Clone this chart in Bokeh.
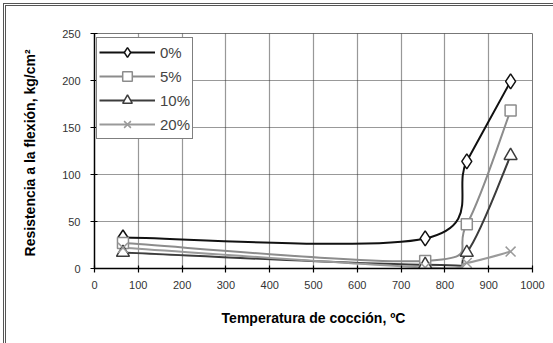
from bokeh.plotting import figure
from bokeh.models import Range1d, Legend, LegendItem, FixedTicker, InlineStyleSheet
from bokeh.embed import file_html
from bokeh.resources import INLINE

# ---- data ----
temps = [65, 755, 850, 950]
s0 = [33, 32, 114, 199]
s5 = [27, 8, 47, 168]
s10 = [17, 4, 17, 120]
s20 = [22, 1, 6, 18]
series_labels = ["0%", "5%", "10%", "20%"]
x_ticks = [0, 100, 200, 300, 400, 500, 600, 700, 800, 900, 1000]
y_ticks = [0, 50, 100, 150, 200, 250]

FONT = "Liberation Sans"


def smooth_segments(xs, ys):
    """Excel-style smoothed line: Catmull-Rom cubic Bezier segments through the points."""
    n = len(xs)
    seg = dict(x0=[], y0=[], x1=[], y1=[], cx0=[], cy0=[], cx1=[], cy1=[])
    for i in range(n - 1):
        pm = max(i - 1, 0)
        pp = min(i + 2, n - 1)
        seg["x0"].append(xs[i]); seg["y0"].append(ys[i])
        seg["x1"].append(xs[i + 1]); seg["y1"].append(ys[i + 1])
        seg["cx0"].append(xs[i] + (xs[i + 1] - xs[pm]) / 6)
        seg["cy0"].append(ys[i] + (ys[i + 1] - ys[pm]) / 6)
        seg["cx1"].append(xs[i + 1] - (xs[pp] - xs[i]) / 6)
        seg["cy1"].append(ys[i + 1] - (ys[pp] - ys[i]) / 6)
    return seg


p = figure(width=553, height=343, output_backend="svg", toolbar_location=None,
           x_range=Range1d(0, 1000), y_range=Range1d(0, 250),
           min_border_left=94, min_border_right=21, min_border_top=33, min_border_bottom=75)
p.border_fill_color = "white"
p.background_fill_color = "white"
p.outline_line_color = "#777777"
p.outline_line_width = 1

# outer chart border: double grey line, only its top and left edges fall inside the picture
p.stylesheets = [InlineStyleSheet(css=(
    ":host { position: relative; }"
    ":host::after { content: ''; position: absolute; left: 3px; top: 3px; "
    "width: 600px; height: 400px; border-left: 3px double #555; border-top: 3px double #555; "
    "box-sizing: border-box; pointer-events: none; z-index: 10; }"
))]

for ax in (p.xaxis[0], p.yaxis[0]):
    ax.axis_line_color = "black"
    ax.axis_line_width = 1.5
    ax.major_tick_line_color = "black"
    ax.major_tick_line_width = 1.2
    ax.major_tick_out = 4
    ax.major_tick_in = 3
    ax.minor_tick_line_color = None
    ax.major_label_text_font = FONT
    ax.major_label_text_font_size = "11px"
    ax.major_label_text_color = "#333333"
    ax.axis_label_text_font = FONT
    ax.axis_label_text_font_style = "bold"
    ax.axis_label_text_font_size = "14px"
    ax.axis_label_text_color = "black"

p.xaxis.ticker = FixedTicker(ticks=x_ticks)
p.yaxis.ticker = FixedTicker(ticks=y_ticks)
p.xaxis.major_label_standoff = 8
p.yaxis.major_label_standoff = 10
p.xaxis.axis_label = "Temperatura de cocción, ºC"
p.yaxis.axis_label = "Resistencia a la flexión,  kg/cm²"
p.xaxis.axis_label_standoff = 18
p.yaxis.axis_label_standoff = 21

for g in (p.xgrid[0], p.ygrid[0]):
    g.grid_line_color = "#333333"
    g.grid_line_dash = "1 1"
    g.grid_line_width = 1.2

styles = [
    (s0, "#111111", "diamond", 15),
    (s5, "#8c8c8c", "square", 11),
    (s10, "#3c3c3c", "triangle", 13),
    (s20, "#9a9a9a", "x", 14),
]

items = []
for (vals, color, marker, size), lab in zip(styles, series_labels):
    seg = smooth_segments(temps, vals)
    bz = p.bezier(x0="x0", y0="y0", x1="x1", y1="y1", cx0="cx0", cy0="cy0",
                  cx1="cx1", cy1="cy1", source=seg, line_color=color, line_width=2)
    items.append((lab, bz, marker, color, size, vals))

legend_items = []
for lab, bz, marker, color, size, vals in items:
    sc = p.scatter(temps, vals, marker=marker, size=size, line_color=color,
                   line_width=1.5, fill_color="white")
    legend_items.append(LegendItem(label=lab, renderers=[bz, sc]))

legend = Legend(items=legend_items, location=(2, 129), margin=0,
                padding=2, spacing=0, glyph_width=56, glyph_height=24,
                label_height=24, label_standoff=5,
                label_text_font=FONT, label_text_font_size="15px",
                border_line_color="black", border_line_width=1.5,
                background_fill_color="white", background_fill_alpha=1)
p.add_layout(legend)

open("out.html", "w").write(file_html(p, INLINE))
